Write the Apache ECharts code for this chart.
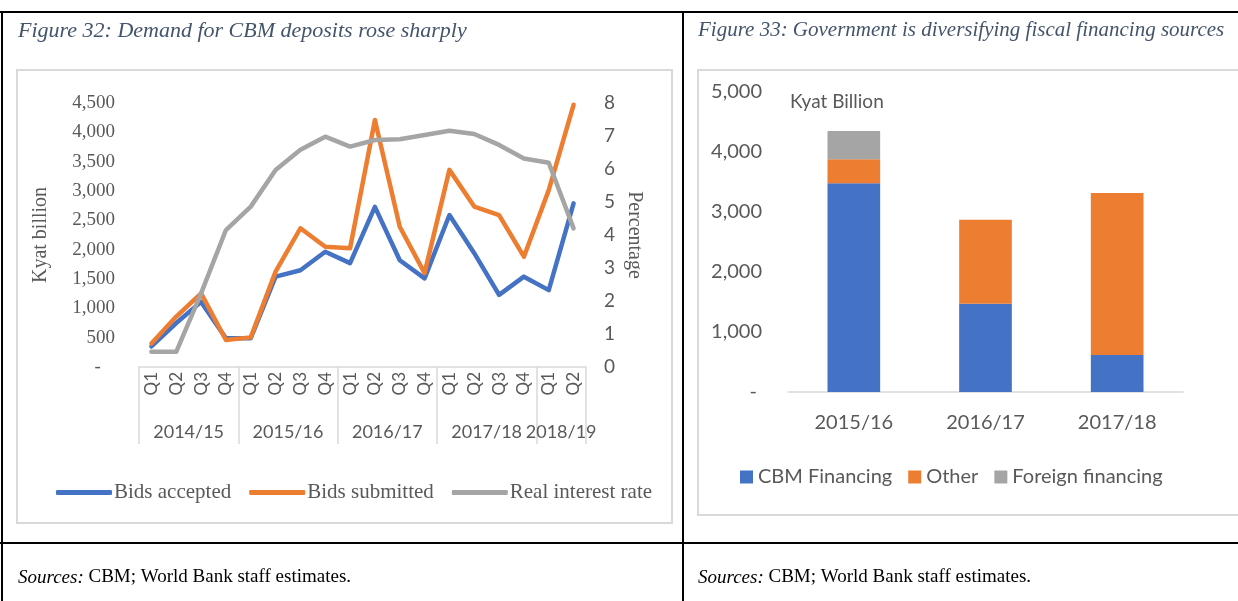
<!DOCTYPE html>
<html><head><meta charset="utf-8">
<script src="https://cdn.jsdelivr.net/npm/echarts@6/dist/echarts.min.js"></script>
<style>
html,body{margin:0;padding:0;background:#fff;overflow:hidden;}
#c{position:absolute;left:0;top:0;width:1238px;height:601px;}
.ln{position:absolute;background:#000;}
.fr{position:absolute;border:2px solid #d9d9d9;box-sizing:border-box;}
</style></head><body>
<div class="ln" style="left:0;top:11px;width:1238px;height:2px"></div>
<div class="ln" style="left:1px;top:11px;width:2px;height:590px"></div>
<div class="ln" style="left:682px;top:11px;width:2px;height:590px"></div>
<div class="ln" style="left:0;top:542px;width:1238px;height:2px"></div>
<div class="fr" style="left:16px;top:69px;width:657px;height:455px"></div>
<div class="fr" style="left:697px;top:69px;width:548px;height:447px"></div>
<div id="c"></div>
<script>
// ---------- data ----------
const fiscalYears = ['2014/15', '2015/16', '2016/17', '2017/18', '2018/19'];
const quartersPerYear = [4, 4, 4, 4, 2];
const bidsAccepted = [350, 750, 1110, 490, 490, 1540, 1650, 1965, 1770, 2730, 1820, 1510, 2590, 1940, 1230, 1540, 1310, 2790];
const bidsSubmitted = [400, 860, 1255, 460, 505, 1625, 2365, 2050, 2025, 4210, 2390, 1600, 3360, 2735, 2590, 1880, 3015, 4470];
const realInterestRate = [0.46, 0.46, 2.23, 4.15, 4.86, 5.97, 6.58, 6.98, 6.68, 6.88, 6.9, 7.03, 7.16, 7.06, 6.73, 6.32, 6.19, 4.2];
const bidsTicks = { min: 0, max: 4500, step: 500 };
const rateTicks = { min: 0, max: 8, step: 1 };

const finYears = ['2015/16', '2016/17', '2017/18'];
const cbmFinancing = [3480, 1470, 615];
const otherFinancing = [400, 1400, 2700];
const foreignFinancing = [470, 0, 0];
const finTicks = { min: 0, max: 5000, step: 1000 };

// ---------- derived ----------
const quarters = [];
quartersPerYear.forEach(n => { for (let i = 1; i <= n; i++) quarters.push('Q' + i); });
const boundaries = [0];
const centers = [];
const centerLabel = {};
quartersPerYear.forEach((n, i) => {
  const start = boundaries[boundaries.length - 1];
  const c = start + n / 2;
  centers.push(c);
  centerLabel[c] = fiscalYears[i];
  boundaries.push(start + n);
});

const GREY_TXT = '#595959';
const SERIF = 'Liberation Serif';
const SANS = 'Lato';
const fmtLeft = v => v === 0 ? '-   ' : v.toLocaleString('en-US');
const fmtRight = v => v === 0 ? '- ' : v.toLocaleString('en-US');
const titleStyle = size => ({ fontFamily: SERIF, fontStyle: 'italic', fontWeight: 'normal', fontSize: size, color: '#44546a' });
const srcStyle = { fontFamily: SERIF, fontWeight: 'normal', fontSize: 19, color: '#000',
  rich: { i: { fontFamily: SERIF, fontStyle: 'italic', fontSize: 19, color: '#000' } } };

const chart = echarts.init(document.getElementById('c'), null, { renderer: 'canvas' });
chart.setOption({
  animation: false,
  title: [
    { text: 'Figure 32: Demand for CBM deposits rose sharply', left: 18, top: 20, padding: 0, textStyle: titleStyle(22) },
    { text: 'Figure 33: Government is diversifying fiscal financing sources', left: 698, top: 20, padding: 0, textStyle: titleStyle(21) },
    { text: '{i|Sources:} CBM; World Bank staff estimates.', left: 18, top: 568, padding: 0, textStyle: srcStyle },
    { text: '{i|Sources:} CBM; World Bank staff estimates.', left: 698, top: 568, padding: 0, textStyle: srcStyle },
    { text: 'Kyat Billion', left: 790, top: 92, padding: 0,
      textStyle: { fontFamily: SANS, fontWeight: 'normal', fontSize: 19, color: GREY_TXT } }
  ],
  legend: [
    { data: ['Bids accepted', 'Bids submitted', 'Real interest rate'], left: 56, top: 482, padding: 0,
      icon: 'roundRect', itemWidth: 56, itemHeight: 5, itemGap: 18,
      textStyle: { fontFamily: SERIF, fontSize: 21, color: GREY_TXT, padding: [0, 0, 0, -3] } },
    { data: ['CBM Financing', 'Other', 'Foreign financing'], left: 740, top: 467, padding: 0,
      icon: 'rect', itemWidth: 13, itemHeight: 13, itemGap: 16,
      textStyle: { fontFamily: SANS, fontSize: 20, color: GREY_TXT } }
  ],
  grid: [
    { left: 139, right: 652, top: 103, bottom: 234 },
    { left: 788, right: 55, top: 92, bottom: 209 }
  ],
  xAxis: [
    { type: 'category', gridIndex: 0, data: quarters, boundaryGap: true,
      axisLine: { lineStyle: { color: '#d9d9d9', width: 1.5 } }, axisTick: { show: false },
      axisLabel: { rotate: 90, margin: 5, fontFamily: SANS, fontSize: 17, color: GREY_TXT } },
    { type: 'value', gridIndex: 0, min: 0, max: quarters.length, position: 'bottom',
      axisLine: { show: false }, splitLine: { show: false },
      axisTick: { show: true, customValues: boundaries, length: 77, lineStyle: { color: '#d9d9d9', width: 1.5 } },
      axisLabel: { customValues: centers, formatter: v => centerLabel[v] || '', margin: 56,
        fontFamily: SANS, fontSize: 18, color: GREY_TXT } },
    { type: 'category', gridIndex: 1, data: finYears,
      axisLine: { lineStyle: { color: '#d9d9d9', width: 1.5 } }, axisTick: { show: false },
      axisLabel: { margin: 21, fontFamily: SANS, fontSize: 20, color: GREY_TXT } }
  ],
  yAxis: [
    { type: 'value', gridIndex: 0, min: bidsTicks.min, max: bidsTicks.max, interval: bidsTicks.step,
      axisLine: { show: false }, axisTick: { show: false }, splitLine: { show: false },
      axisLabel: { formatter: fmtLeft, margin: 24, fontFamily: SERIF, fontSize: 19, color: GREY_TXT },
      name: 'Kyat billion', nameLocation: 'middle', nameRotate: 90, nameGap: 88,
      nameTextStyle: { fontFamily: SERIF, fontSize: 20, color: GREY_TXT } },
    { type: 'value', gridIndex: 0, position: 'right', min: rateTicks.min, max: rateTicks.max, interval: rateTicks.step,
      axisLine: { show: false }, axisTick: { show: false }, splitLine: { show: false },
      axisLabel: { margin: 18, fontFamily: SANS, fontSize: 19, color: GREY_TXT },
      name: 'Percentage', nameLocation: 'middle', nameRotate: -90, nameGap: 38,
      nameTextStyle: { fontFamily: SERIF, fontSize: 20, color: GREY_TXT } },
    { type: 'value', gridIndex: 1, min: finTicks.min, max: finTicks.max, interval: finTicks.step,
      axisLine: { show: false }, axisTick: { show: false }, splitLine: { show: false },
      axisLabel: { formatter: fmtRight, margin: 26, fontFamily: SANS, fontSize: 20, color: GREY_TXT } }
  ],
  series: [
    { name: 'Bids accepted', type: 'line', xAxisIndex: 0, yAxisIndex: 0, data: bidsAccepted,
      symbol: 'none', color: '#4472c4', lineStyle: { width: 4.5, color: '#4472c4', cap: 'round', join: 'round' } },
    { name: 'Bids submitted', type: 'line', xAxisIndex: 0, yAxisIndex: 0, data: bidsSubmitted,
      symbol: 'none', color: '#ed7d31', lineStyle: { width: 4.5, color: '#ed7d31', cap: 'round', join: 'round' } },
    { name: 'Real interest rate', type: 'line', xAxisIndex: 0, yAxisIndex: 1, data: realInterestRate,
      symbol: 'none', color: '#a5a5a5', lineStyle: { width: 4.5, color: '#a5a5a5', cap: 'round', join: 'round' } },
    { name: 'CBM Financing', type: 'bar', stack: 'f', xAxisIndex: 2, yAxisIndex: 2, data: cbmFinancing,
      barWidth: '40%', itemStyle: { color: '#4472c4' } },
    { name: 'Other', type: 'bar', stack: 'f', xAxisIndex: 2, yAxisIndex: 2, data: otherFinancing,
      barWidth: '40%', itemStyle: { color: '#ed7d31' } },
    { name: 'Foreign financing', type: 'bar', stack: 'f', xAxisIndex: 2, yAxisIndex: 2, data: foreignFinancing,
      barWidth: '40%', itemStyle: { color: '#a5a5a5' } }
  ]
});
</script>
</body></html>
